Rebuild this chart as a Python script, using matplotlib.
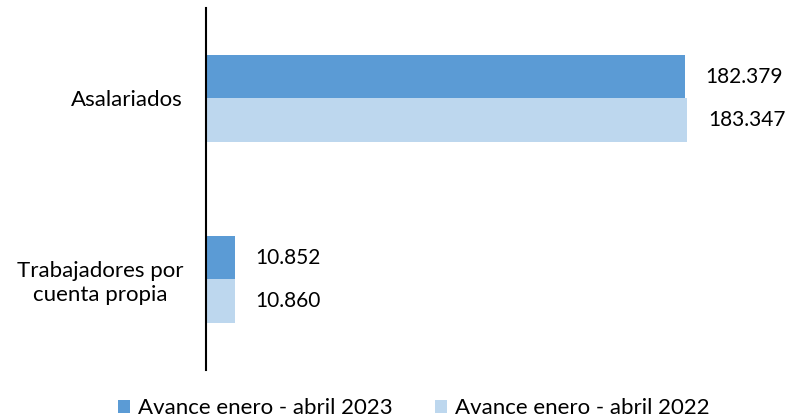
import numpy as np
import matplotlib.pyplot as plt

plt.rcParams['font.family'] = ['Lato', 'DejaVu Sans']

categorias = ['Trabajadores por\ncuenta propia', 'Asalariados']
avance_2023 = [10852, 182379]
avance_2022 = [10860, 183347]
etiquetas_2023 = ['10.852', '182.379']
etiquetas_2022 = ['10.860', '183.347']

fig = plt.figure(figsize=(7.9, 4.19), dpi=100)
ax = fig.add_axes([0.2608, 0.117, 0.925 - 0.2608, 0.981 - 0.117])

y = np.arange(len(categorias))
h = 0.24
b1 = ax.barh(y + h / 2, avance_2023, height=h, color='#5B9BD5', label='Avance enero - abril 2023')
b2 = ax.barh(y - h / 2, avance_2022, height=h, color='#BDD7EE', label='Avance enero - abril 2022')

ax.bar_label(b1, labels=etiquetas_2023, padding=15, fontsize=15, color='#000000')
ax.bar_label(b2, labels=etiquetas_2022, padding=15, fontsize=15, color='#000000')

ax.set_xlim(0, 200000)
ax.set_ylim(-0.5, 1.5)
ax.set_yticks(y)
ax.set_yticklabels(categorias, fontsize=16, multialignment='center')
ax.tick_params(axis='y', length=0, pad=16.5)
ax.set_xticks([])
for s in ['top', 'right', 'bottom']:
    ax.spines[s].set_visible(False)
ax.spines['left'].set_linewidth(1.5)
ax.spines['left'].set_color('black')

fig.legend(loc='center', bbox_to_anchor=(0.524, 0.026), ncol=2, frameon=False,
           fontsize=16, handlelength=0.55, handleheight=0.55, handletextpad=0.35,
           columnspacing=1.9)

fig.savefig('out.png', dpi=100)
